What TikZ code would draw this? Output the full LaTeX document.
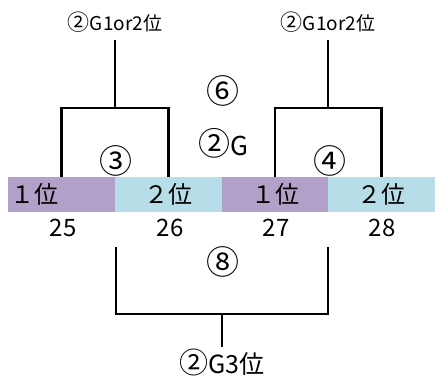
\documentclass[tikz,border=0pt]{standalone}
\usepackage{fontspec}
\setmainfont{Noto Sans CJK JP}
\definecolor{cellpur}{HTML}{B1A0C7}
\definecolor{cellblu}{HTML}{B7DEE8}
\newcommand{\bigc}[2]{{\fontsize{#1}{#1}\selectfont #2}}
\begin{document}
\begin{tikzpicture}[x=1pt,y=-1pt,
    cell/.style={minimum width=107pt,minimum height=35pt,inner sep=0pt,font=\fontsize{24}{24}\selectfont},
    num/.style={font=\fontsize{24}{24}\selectfont},
    circ/.style={font=\fontsize{33}{33}\selectfont},
    seed/.style={font=\fontsize{19}{19}\selectfont},
    bracket/.style={line width=2.8pt}]
    \useasboundingbox (0,0) rectangle (435,379);
    % group cells
    \node[cell,fill=cellpur,text width=103pt,align=left,inner xsep=2pt] (c1) at (61.5,194.5) {１位};
    \node[cell,fill=cellblu] (c2) at (168.5,194.5) {２位};
    \node[cell,fill=cellpur] (c3) at (275,194.5) {１位};
    \node[cell,fill=cellblu] (c4) at (381.5,194.5) {２位};
    % match numbers
    \node[num] (n25) at (63,228) {25};
    \node[num] (n26) at (170,228) {26};
    \node[num] (n27) at (276,228) {27};
    \node[num] (n28) at (382,228) {28};
    % labels
    \node[seed] (w1) at (115,22) {\bigc{22}{②}G1or2位};
    \node[seed] (w2) at (328,22) {\bigc{22}{②}G1or2位};
    \node[circ] (m6) at (223,91) {⑥};
    \node[font=\fontsize{26}{26}\selectfont] (g2) at (223,143) {\bigc{32}{②}G};
    \node[circ] (m3) at (116,161) {③};
    \node[circ] (m4) at (330,161) {④};
    \node[circ] (m8) at (223,262) {⑧};
    \node[font=\fontsize{25}{25}\selectfont] (w3) at (222,362) {\bigc{29}{②}G3位};
    \coordinate (s1) at (115,40);
    \coordinate (s2) at (328,40);
    \coordinate (s3) at (222,347);
    % brackets
    \draw[bracket] (c1.north) -- (61.5,108) -| (c2.north);
    \draw[bracket] (115,108) -- (s1);
    \draw[bracket] (c3.north) -- (275,108) -| (c4.north);
    \draw[bracket] (328,108) -- (s2);
    \draw[bracket] (116,247) -- (116,314) -- (328,314) -- (328,247);
    \draw[bracket] (222,314) -- (s3);
\end{tikzpicture}
\end{document}
